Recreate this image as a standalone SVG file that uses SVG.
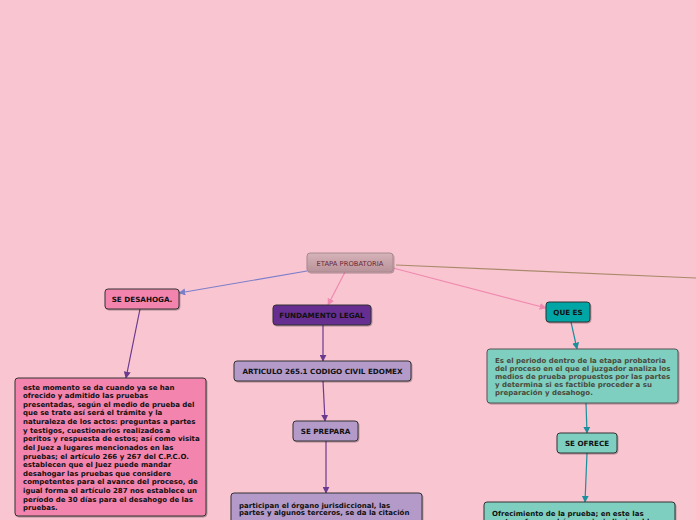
<svg xmlns="http://www.w3.org/2000/svg" width="696" height="520" viewBox="0 0 696 520">
<defs>
<linearGradient id="gRoot" x1="0" y1="0" x2="0" y2="1">
<stop offset="0" stop-color="#d6b3b9"/>
<stop offset="1" stop-color="#b8949a"/>
</linearGradient>
<filter id="sh" x="-10%" y="-10%" width="120%" height="130%">
<feDropShadow dx="0.8" dy="1" stdDeviation="0.7" flood-color="#000" flood-opacity="0.3"/>
</filter>
<marker id="aBlue" viewBox="0 0 10 10" refX="9" refY="5" markerWidth="7" markerHeight="7" orient="auto" markerUnits="userSpaceOnUse"><path d="M0,0 L10,5 L0,10 z" fill="#7b7fc9"/></marker>
<marker id="aPink" viewBox="0 0 10 10" refX="9" refY="5" markerWidth="7" markerHeight="7" orient="auto" markerUnits="userSpaceOnUse"><path d="M0,0 L10,5 L0,10 z" fill="#f08ab0"/></marker>
<marker id="aPurple" viewBox="0 0 10 10" refX="9" refY="5" markerWidth="7" markerHeight="7" orient="auto" markerUnits="userSpaceOnUse"><path d="M0,0 L10,5 L0,10 z" fill="#6a3a8e"/></marker>
<marker id="aTeal" viewBox="0 0 10 10" refX="9" refY="5" markerWidth="7" markerHeight="7" orient="auto" markerUnits="userSpaceOnUse"><path d="M0,0 L10,5 L0,10 z" fill="#1b8f9c"/></marker>
</defs>
<style>
.bg{fill:#f9c5d1}
.box{stroke:#333;stroke-width:1;filter:url(#sh)}
.t{font-family:"DejaVu Sans",Verdana,sans-serif;font-weight:bold;font-size:7px;fill:#111}
.h{font-size:7.2px}
.c{text-anchor:middle}
.ln{fill:none;stroke-width:1.2}
</style>
<rect class="bg" x="0" y="0" width="696" height="520"/>
<g id="connectors">
<line class="ln" x1="307" y1="271" x2="179" y2="293" stroke="#7b7fc9" marker-end="url(#aBlue)"/>
<line class="ln" x1="345" y1="272" x2="328" y2="305" stroke="#f08ab0" marker-end="url(#aPink)"/>
<line class="ln" x1="393" y1="268" x2="546" y2="308" stroke="#f08ab0" marker-end="url(#aPink)"/>
<line class="ln" x1="396" y1="265" x2="696" y2="278" stroke="#a88a6a"/>
<line class="ln" x1="140" y1="309" x2="126" y2="378" stroke="#6a3a8e" marker-end="url(#aPurple)"/>
<line class="ln" x1="323" y1="325" x2="323" y2="361" stroke="#6a3a8e" marker-end="url(#aPurple)"/>
<line class="ln" x1="323" y1="381" x2="325" y2="421" stroke="#6a3a8e" marker-end="url(#aPurple)"/>
<line class="ln" x1="326" y1="441" x2="326" y2="493" stroke="#6a3a8e" marker-end="url(#aPurple)"/>
<line class="ln" x1="571" y1="322" x2="577" y2="349" stroke="#1b8f9c" marker-end="url(#aTeal)"/>
<line class="ln" x1="586" y1="403" x2="587" y2="433" stroke="#1b8f9c" marker-end="url(#aTeal)"/>
<line class="ln" x1="587" y1="453" x2="585" y2="502" stroke="#1b8f9c" marker-end="url(#aTeal)"/>
</g>
<g id="root">
<rect x="307" y="253" width="86" height="19" rx="3" fill="url(#gRoot)" stroke="#a88890" stroke-width="1" style="filter:url(#sh)"/>
<text x="350" y="265.5" class="c" style="font-family:'DejaVu Sans',Verdana,sans-serif;font-size:6.8px;fill:#6b2a3a">ETAPA PROBATORIA</text>
</g>
<g id="se-desahoga">
<rect class="box" x="105" y="289" width="74" height="20" rx="3" fill="#f384ae"/>
<text class="t h c" x="142" y="301.5">SE DESAHOGA.</text>
</g>
<g id="fundamento">
<rect class="box" x="273" y="305" width="98" height="20" rx="3" fill="#662d91"/>
<text class="t h c" x="322" y="317.5">FUNDAMENTO LEGAL</text>
</g>
<g id="que-es">
<rect class="box" x="546" y="302" width="44" height="20" rx="3" fill="#00a6a6"/>
<text class="t h c" x="568" y="314.5">QUE ES</text>
</g>
<g id="es-el-periodo">
<rect x="487" y="349" width="191" height="54" rx="3" fill="#7ecfc0" stroke="#555" stroke-width="1" style="filter:url(#sh)"/>
<text class="t" x="495" y="362.5" style="fill:#4a4a3c">
<tspan x="495">Es el periodo dentro de la etapa probatoria</tspan>
<tspan x="495" dy="8.2">del proceso en el que el juzgador analiza los</tspan>
<tspan x="495" dy="8.2">medios de prueba propuestos por las partes</tspan>
<tspan x="495" dy="8.2">y determina si es factible proceder a su</tspan>
<tspan x="495" dy="8.2">preparación y desahogo.</tspan>
</text>
</g>
<g id="se-ofrece">
<rect class="box" x="557" y="433" width="60" height="20" rx="3" fill="#7ecfc0"/>
<text class="t h c" x="587" y="445.5">SE OFRECE</text>
</g>
<g id="ofrecimiento">
<rect class="box" x="484" y="502" width="191" height="30" rx="3" fill="#7ecfc0"/>
<text class="t" x="492" y="515.5">
<tspan x="492">Ofrecimiento de la prueba; en este las</tspan>
<tspan x="492" dy="8">partes ofrecen al órgano jurisdiccional las</tspan>
</text>
</g>
<g id="articulo">
<rect class="box" x="234" y="361" width="177" height="20" rx="3" fill="#b39ac9"/>
<text class="t h c" x="322.5" y="373.5">ARTICULO 265.1 CODIGO CIVIL EDOMEX</text>
</g>
<g id="se-prepara">
<rect class="box" x="293" y="421" width="65" height="20" rx="3" fill="#b39ac9"/>
<text class="t h c" x="325.5" y="433.5">SE PREPARA</text>
</g>
<g id="participan">
<rect class="box" x="231" y="493" width="191" height="40" rx="3" fill="#b39ac9"/>
<text class="t" x="239" y="507.5">
<tspan x="239">participan el órgano jurisdiccional, las</tspan>
<tspan x="239" dy="7.6">partes y algunos terceros, se da la citación</tspan>
</text>
</g>
<g id="este-momento">
<rect class="box" x="15" y="378" width="191" height="138" rx="3" fill="#f384ae"/>
<text class="t" x="23" y="389.5">
<tspan x="23">este momento se da cuando ya se han</tspan>
<tspan x="23" dy="8.63">ofrecido y admitido las pruebas</tspan>
<tspan x="23" dy="8.63">presentadas, según el medio de prueba del</tspan>
<tspan x="23" dy="8.63">que se trate así será el trámite y la</tspan>
<tspan x="23" dy="8.63">naturaleza de los actos: preguntas a partes</tspan>
<tspan x="23" dy="8.63">y testigos, cuestionarios realizados a</tspan>
<tspan x="23" dy="8.63">peritos y respuesta de estos; así como visita</tspan>
<tspan x="23" dy="8.63">del Juez a lugares mencionados en las</tspan>
<tspan x="23" dy="8.63">pruebas; el artículo 266 y 267 del C.P.C.O.</tspan>
<tspan x="23" dy="8.63">establecen que el Juez puede mandar</tspan>
<tspan x="23" dy="8.63">desahogar las pruebas que considere</tspan>
<tspan x="23" dy="8.63">competentes para el avance del proceso, de</tspan>
<tspan x="23" dy="8.63">igual forma el artículo 287 nos establece un</tspan>
<tspan x="23" dy="8.63">período de 30 días para el desahogo de las</tspan>
<tspan x="23" dy="8.63">pruebas.</tspan>
</text>
</g>
</svg>
